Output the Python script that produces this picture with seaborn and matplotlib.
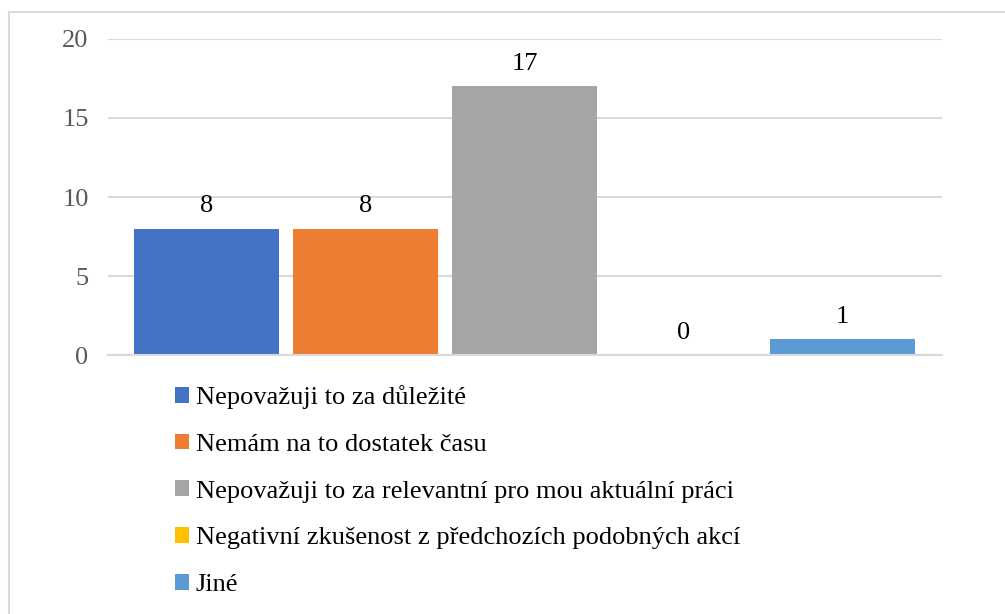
import matplotlib
matplotlib.use("Agg")
import matplotlib.pyplot as plt
import seaborn as sns
import pandas as pd
from matplotlib.patches import Patch
from matplotlib.lines import Line2D

# ==============================
# DATA
# ==============================
reasons = [
    "Nepovažuji to za důležité",
    "Nemám na to dostatek času",
    "Nepovažuji to za relevantní pro mou aktuální práci",
    "Negativní zkušenost z předchozích podobných akcí",
    "Jiné",
]
counts = [8, 8, 17, 0, 1]
colors = ["#4472C4", "#ED7D31", "#A5A5A5", "#FFC000", "#5B9BD5"]
y_ticks = [0, 5, 10, 15, 20]

df = pd.DataFrame({"reason": reasons, "count": counts})

# ==============================
# STYLE
# ==============================
sns.set_style("white")
plt.rcParams["font.family"] = ["Liberation Serif", "DejaVu Serif"]
plt.rcParams["text.color"] = "black"
grid_col = "#D9D9D9"
fs = 19

fig = plt.figure(figsize=(10.05, 6.14), dpi=100)
ax = fig.add_axes([0.1075, 0.4218, 0.8298, 0.5147])

sns.barplot(data=df, x="reason", y="count", hue="reason", palette=colors,
            width=0.912, legend=False, ax=ax, saturation=1, linewidth=0)

for c in ax.containers:
    ax.bar_label(c, fontsize=fs, color="black", padding=8)

ax.set_xlim(-0.62, 4.626)
ax.set_ylim(0, 20)
ax.set_yticks(y_ticks)
ax.set_xticks([])
ax.set_xlabel("")
ax.set_ylabel("")
ax.tick_params(axis="y", labelsize=fs, labelcolor="#595959", length=0, pad=14)
ax.yaxis.grid(True, color=grid_col, lw=1.5)
ax.set_axisbelow(True)
for s in ["top", "right", "left"]:
    ax.spines[s].set_visible(False)
ax.spines["bottom"].set_color(grid_col)
ax.spines["bottom"].set_linewidth(1.5)

# legend below the plot
handles = [Patch(facecolor=col, edgecolor="none") for col in colors]
leg = fig.legend(handles, reasons, loc="upper left", bbox_to_anchor=(0.174, 0.373),
                 frameon=False, fontsize=fs, handlelength=0.55, handleheight=0.55,
                 handletextpad=0.25, labelspacing=0.93, borderaxespad=0, borderpad=0)
for t in leg.get_texts():
    t.set_color("black")

# chart border
fig.add_artist(Line2D([0.0085, 1.0], [0.981, 0.981], transform=fig.transFigure, color=grid_col, lw=1.5))
fig.add_artist(Line2D([0.0085, 0.0085], [0.0, 0.981], transform=fig.transFigure, color=grid_col, lw=1.5))

plt.savefig("out.png", dpi=100)
